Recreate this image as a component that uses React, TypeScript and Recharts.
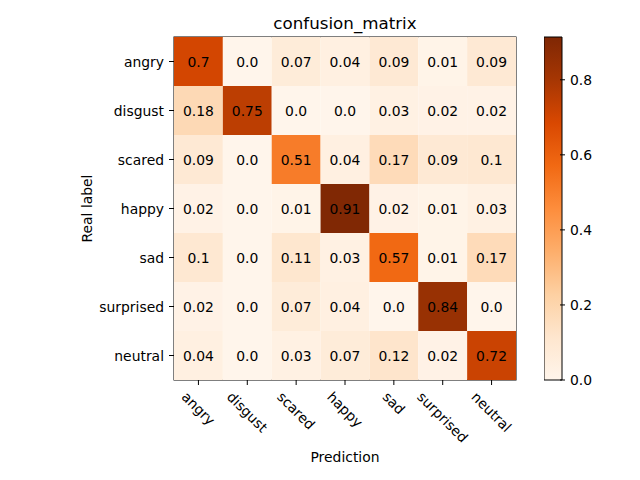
import React from 'react';
import { ScatterChart, Scatter, XAxis, YAxis, BarChart, Bar, Customized } from 'recharts';

const classes = ['angry', 'disgust', 'scared', 'happy', 'sad', 'surprised', 'neutral'];

// rows = real label, columns = prediction
const rowAngry = [0.7, 0.0, 0.07, 0.04, 0.09, 0.01, 0.09];
const rowDisgust = [0.18, 0.75, 0.0, 0.0, 0.03, 0.02, 0.02];
const rowScared = [0.09, 0.0, 0.51, 0.04, 0.17, 0.09, 0.1];
const rowHappy = [0.02, 0.0, 0.01, 0.91, 0.02, 0.01, 0.03];
const rowSad = [0.1, 0.0, 0.11, 0.03, 0.57, 0.01, 0.17];
const rowSurprised = [0.02, 0.0, 0.07, 0.04, 0.0, 0.84, 0.0];
const rowNeutral = [0.04, 0.0, 0.03, 0.07, 0.12, 0.02, 0.72];
const matrixRows = [rowAngry, rowDisgust, rowScared, rowHappy, rowSad, rowSurprised, rowNeutral];

const colorbarTicks = [0, 0.2, 0.4, 0.6, 0.8];
const VMAX = 0.914;

// matplotlib "Oranges"
const ORANGES = ['#fff5eb', '#fee6ce', '#fdd0a2', '#fdae6b', '#fd8d3c', '#f16913', '#d94801', '#a63603', '#7f2704'];

const FONT = 'DejaVu Sans, sans-serif';
const PLOT_LEFT = 174;
const PLOT_TOP = 37;
const PLOT_W = 342;
const PLOT_H = 343;
const CELL_W = PLOT_W / 7;
const CELL_H = PLOT_H / 7;

const hexToRgb = (h: string) => [1, 3, 5].map((i) => parseInt(h.slice(i, i + 2), 16));

const orangeColor = (v: number) => {
  const t = Math.max(0, Math.min(1, v / VMAX)) * (ORANGES.length - 1);
  const i = Math.min(Math.floor(t), ORANGES.length - 2);
  const f = t - i;
  const a = hexToRgb(ORANGES[i]);
  const b = hexToRgb(ORANGES[i + 1]);
  const c = a.map((x, k) => Math.round(x + (b[k] - x) * f));
  return `rgb(${c[0]},${c[1]},${c[2]})`;
};

const fmt = (v: number) => (Math.abs(v * 10 - Math.round(v * 10)) < 1e-9 ? v.toFixed(1) : v.toFixed(2));

const cells = matrixRows.flatMap((row, r) => row.map((v, c) => ({ x: c, y: r, v })));

let measureCtx: CanvasRenderingContext2D | null = null;
const textWidth = (s: string, font: string) => {
  if (!measureCtx) measureCtx = document.createElement('canvas').getContext('2d');
  if (!measureCtx) return s.length * 8;
  measureCtx.font = font;
  return measureCtx.measureText(s).width;
};

const CellShape = (props: any) => {
  const { cx, cy, payload } = props;
  return (
    <g>
      <rect x={cx - CELL_W / 2} y={cy - CELL_H / 2} width={CELL_W} height={CELL_H} fill={orangeColor(payload.v)} />
      <text x={cx} y={cy} textAnchor="middle" dominantBaseline="central" fontFamily={FONT} fontSize={13.9} fill="#000">
        {fmt(payload.v)}
      </text>
    </g>
  );
};

const XTick = (props: any) => {
  const { x, payload } = props;
  const label = classes[payload.value];
  const w = textWidth(label, `13.9px ${FONT}`);
  const half = (w + 12) / (2 * Math.SQRT2);
  const top = PLOT_TOP + PLOT_H + 10;
  return (
    <g>
      <line x1={x} x2={x} y1={PLOT_TOP + PLOT_H} y2={PLOT_TOP + PLOT_H + 5} stroke="#000" />
      <text
        transform={`translate(${x},${top + half}) rotate(45)`}
        textAnchor="middle"
        dominantBaseline="central"
        fontFamily={FONT}
        fontSize={13.9}
        fill="#000"
      >
        {label}
      </text>
    </g>
  );
};

const YTick = (props: any) => {
  const { y, payload } = props;
  return (
    <g>
      <line x1={PLOT_LEFT - 5} x2={PLOT_LEFT} y1={y} y2={y} stroke="#000" />
      <text x={PLOT_LEFT - 10} y={y} textAnchor="end" dominantBaseline="central" fontFamily={FONT} fontSize={13.9} fill="#000">
        {classes[payload.value]}
      </text>
    </g>
  );
};

const CbTick = (props: any) => {
  const { x, y, payload } = props;
  return (
    <g>
      <line x1={x - 10} x2={x - 5} y1={y} y2={y} stroke="#000" />
      <text x={x} y={y} textAnchor="start" dominantBaseline="central" fontFamily={FONT} fontSize={13.9} fill="#000">
        {payload.value.toFixed(1)}
      </text>
    </g>
  );
};

const idx = [0, 1, 2, 3, 4, 5, 6];
const colorbarData = [{ name: 'cb', v: VMAX }];

export default function App() {
  return (
    <div style={{ position: 'absolute', left: 0, top: 0, width: 640, height: 480, background: '#fff', fontFamily: FONT }}>
      <ScatterChart
        width={640}
        height={480}
        margin={{ top: PLOT_TOP, left: PLOT_LEFT - 80, right: 640 - PLOT_LEFT - PLOT_W, bottom: 480 - PLOT_TOP - PLOT_H - 70 }}
      >
        <XAxis
          type="number"
          dataKey="x"
          domain={[-0.5, 6.5]}
          ticks={idx}
          interval={0}
          height={70}
          axisLine={false}
          tickLine={false}
          tick={<XTick />}
        />
        <XAxis xAxisId="top" type="number" orientation="top" domain={[-0.5, 6.5]} height={0} tick={false} axisLine={false} />
        <YAxis
          type="number"
          dataKey="y"
          domain={[-0.5, 6.5]}
          reversed
          ticks={idx}
          interval={0}
          width={80}
          axisLine={false}
          tickLine={false}
          tick={<YTick />}
        />
        <Scatter data={cells} shape={<CellShape />} isAnimationActive={false} />
        <Customized
          component={() => (
            <g>
              <rect x={PLOT_LEFT} y={PLOT_TOP} width={PLOT_W} height={PLOT_H} fill="none" stroke="#000" strokeWidth={1} />
              <text x={PLOT_LEFT + PLOT_W / 2} y={29} textAnchor="middle" fontFamily={FONT} fontSize={16.7} fill="#000">
                confusion_matrix
              </text>
              <text x={PLOT_LEFT + PLOT_W / 2} y={462} textAnchor="middle" fontFamily={FONT} fontSize={13.9} fill="#000">
                Prediction
              </text>
              <text
                transform={`translate(92,${PLOT_TOP + PLOT_H / 2}) rotate(-90)`}
                textAnchor="middle"
                fontFamily={FONT}
                fontSize={13.9}
                fill="#000"
              >
                Real label
              </text>
            </g>
          )}
        />
      </ScatterChart>
      <div style={{ position: 'absolute', left: 544, top: 0 }}>
        <BarChart
          width={18 + 50}
          height={480}
          data={colorbarData}
          margin={{ top: PLOT_TOP, left: 0, right: 0, bottom: 480 - PLOT_TOP - PLOT_H }}
          barCategoryGap={0}
        >
          <defs>
            <linearGradient id="cbGrad" x1="0" y1="1" x2="0" y2="0">
              {ORANGES.map((c, i) => (
                <stop key={c} offset={i / (ORANGES.length - 1)} stopColor={c} />
              ))}
            </linearGradient>
          </defs>
          <XAxis dataKey="name" hide />
          <YAxis
            orientation="right"
            domain={[0, VMAX]}
            ticks={colorbarTicks}
            width={50}
            axisLine={false}
            tickLine={false}
            tick={<CbTick />}
          />
          <Bar dataKey="v" fill="url(#cbGrad)" stroke="#000" strokeWidth={1} isAnimationActive={false} />
        </BarChart>
      </div>
    </div>
  );
}
